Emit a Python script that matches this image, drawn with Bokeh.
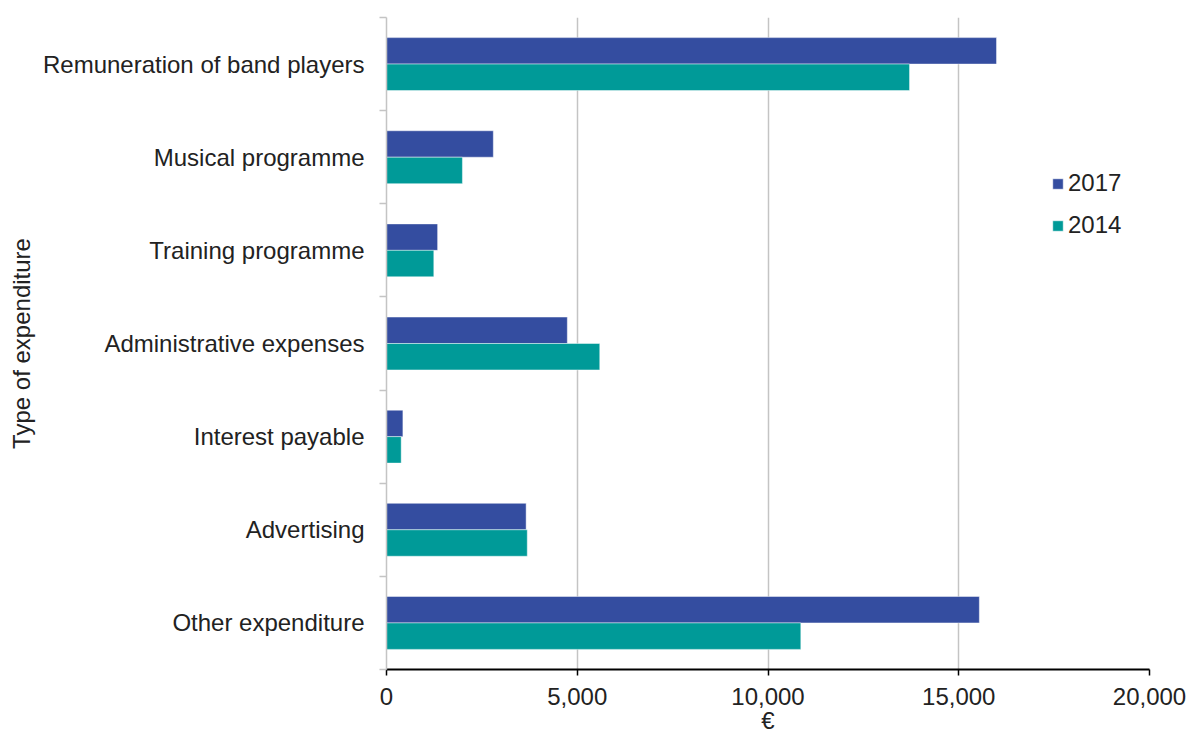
from bokeh.plotting import figure
from bokeh.models import (FixedTicker, NumeralTickFormatter, Legend, LegendItem,
                          ColumnDataSource, Range1d)
from bokeh.embed import file_html
from bokeh.resources import INLINE

categories = ["Remuneration of band players", "Musical programme", "Training programme",
              "Administrative expenses", "Interest payable", "Advertising", "Other expenditure"]
values_2017 = [15990, 2800, 1340, 4740, 430, 3660, 15540]
values_2014 = [13710, 1990, 1240, 5590, 385, 3690, 10860]
series_names = ["2017", "2014"]
x_ticks = [0, 5000, 10000, 15000, 20000]

color_2017 = "#344da0"
color_2014 = "#009a98"
FONT = "Liberation Sans"
FS = "24px"
TXT = "#222222"
GREY = "#c4c4c4"

n = len(categories)
centers = [n - i - 0.5 for i in range(n)]
bar_h = 0.284
src = ColumnDataSource(dict(
    cat=categories,
    y17=[c + bar_h / 2 for c in centers],
    y14=[c - bar_h / 2 for c in centers],
    v17=values_2017,
    v14=values_2014,
))

p = figure(width=1189, height=737, x_range=Range1d(0, 20000), y_range=Range1d(0, n),
           output_backend="svg", toolbar_location=None,
           min_border_left=386, min_border_right=40, min_border_top=17, min_border_bottom=68)
p.outline_line_color = None
p.background_fill_color = "white"
p.border_fill_color = "white"

r17 = p.hbar(y="y17", right="v17", left=0, height=bar_h, source=src,
             fill_color=color_2017, line_color="white", line_alpha=0.45, line_width=1)
r14 = p.hbar(y="y14", right="v14", left=0, height=bar_h, source=src,
             fill_color=color_2014, line_color="white", line_alpha=0.45, line_width=1)

# x axis
xa = p.xaxis[0]
xa.ticker = FixedTicker(ticks=x_ticks)
xa.formatter = NumeralTickFormatter(format="0,0")
xa.axis_line_color = "black"
xa.axis_line_width = 2
xa.major_tick_line_color = "black"
xa.major_tick_line_width = 1.5
xa.major_tick_out = 6
xa.major_tick_in = 0
xa.minor_tick_line_color = None
xa.major_label_standoff = 12
xa.major_label_text_font = FONT
xa.major_label_text_font_size = FS
xa.major_label_text_color = TXT
xa.axis_label = "€"
xa.axis_label_text_font = FONT
xa.axis_label_text_font_size = FS
xa.axis_label_text_font_style = "normal"
xa.axis_label_text_color = TXT
xa.axis_label_standoff = -1

# y axis
ya = p.yaxis[0]
ya.ticker = FixedTicker(ticks=centers, minor_ticks=list(range(n + 1)))
ya.major_label_overrides = {c: name for c, name in zip(centers, categories)}
ya.axis_line_color = GREY
ya.axis_line_width = 1.5
ya.major_tick_line_color = None
ya.major_tick_out = 6
ya.major_tick_in = 0
ya.minor_tick_line_color = GREY
ya.minor_tick_line_width = 1.5
ya.minor_tick_out = 7
ya.minor_tick_in = 0
ya.major_label_standoff = 15
ya.major_label_text_font = FONT
ya.major_label_text_font_size = FS
ya.major_label_text_color = TXT
ya.axis_label = "Type of expenditure"
ya.axis_label_text_font = FONT
ya.axis_label_text_font_size = FS
ya.axis_label_text_font_style = "normal"
ya.axis_label_text_color = TXT
ya.axis_label_standoff = 5

p.xgrid.ticker = FixedTicker(ticks=x_ticks)
p.xgrid.grid_line_color = GREY
p.xgrid.grid_line_width = 1.5
p.ygrid.grid_line_color = None

legend = Legend(items=[LegendItem(label=series_names[0], renderers=[r17]),
                       LegendItem(label=series_names[1], renderers=[r14])],
                location=(665, 430), padding=0, margin=0, spacing=14,
                glyph_width=13, glyph_height=13, label_standoff=4,
                label_text_font=FONT, label_text_font_size=FS, label_text_color=TXT,
                border_line_color=None, background_fill_alpha=0)
p.add_layout(legend)

open("out.html", "w").write(file_html(p, INLINE))
